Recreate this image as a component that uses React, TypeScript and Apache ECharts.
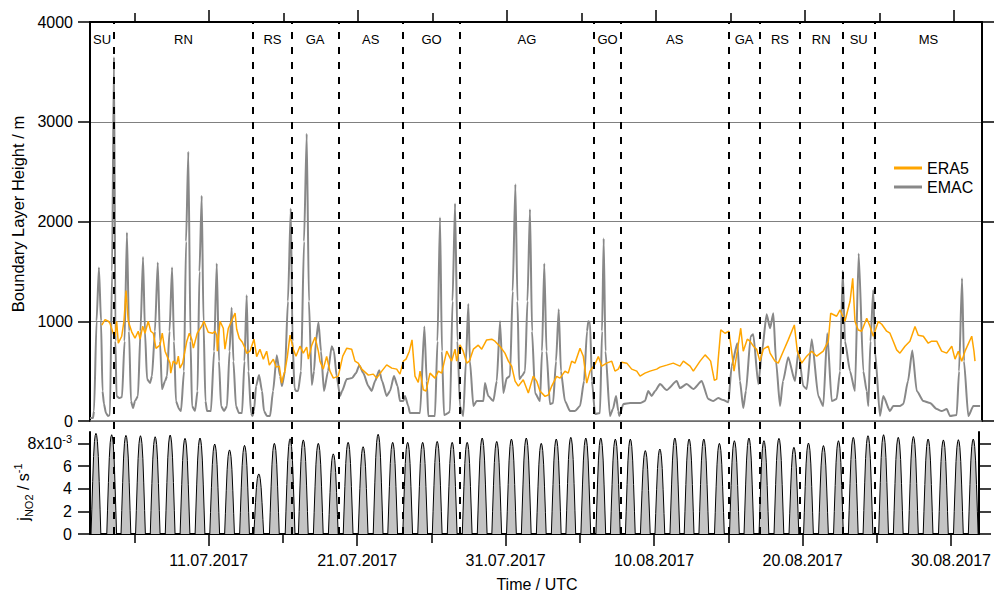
import React, { useEffect, useRef } from 'react';
import * as echarts from 'echarts';

// x values: days since 01.07.2017 00:00 UTC
const X_MIN = 2;
const X_MAX = 61.89;
const majorTicks = [10, 20, 30, 40, 50, 60];
const minorTicks = [5, 15, 25, 35, 45, 55];
const jTicks = [0, 2, 4, 6, 8];

const regionBounds = [2, 3.61, 12.94, 15.56, 18.67, 23.02, 26.84, 35.84, 37.65, 44.86, 46.98, 49.67, 52.51, 54.71, 61.89];
const regionNames = ['SU', 'RN', 'RS', 'GA', 'AS', 'GO', 'AG', 'GO', 'AS', 'GA', 'RS', 'RN', 'SU', 'MS'];

const emac: [number, number][] = [
  [2.00, 30], [2.20, 30], [2.27, 100], [2.44, 1000], [2.60, 1540], [2.74, 1000], [2.84, 300], [2.94, 170], [3.07, 80], [3.21, 50], [3.34, 60], [3.48, 1500], [3.61, 3650], [3.71, 800], [3.78, 250], [3.95, 230], [4.15, 240], [4.32, 800], [4.48, 1890], [4.62, 900], [4.75, 200], [4.89, 130], [5.02, 200], [5.22, 250], [5.39, 900], [5.56, 1645], [5.69, 900], [5.83, 420], [6.03, 380], [6.16, 450], [6.36, 900], [6.55, 1590], [6.70, 800], [6.83, 320], [7.04, 400], [7.17, 450], [7.34, 900], [7.51, 1540], [7.64, 800], [7.77, 200], [7.98, 120], [8.11, 100], [8.31, 500], [8.45, 1800], [8.60, 2700], [8.75, 800], [8.85, 150], [9.05, 100], [9.22, 300], [9.35, 1500], [9.50, 2257], [9.62, 1000], [9.75, 200], [9.86, 100], [10.12, 100], [10.33, 700], [10.51, 1580], [10.66, 600], [10.80, 150], [11.00, 100], [11.20, 150], [11.37, 700], [11.51, 1135], [11.63, 600], [11.80, 150], [12.00, 80], [12.21, 80], [12.37, 600], [12.52, 1260], [12.64, 500], [12.81, 80], [12.91, 50], [13.01, 100], [13.15, 350], [13.35, 460], [13.55, 300], [13.68, 100], [13.88, 50], [14.09, 50], [14.29, 300], [14.54, 660], [14.76, 450], [14.89, 350], [15.09, 500], [15.29, 1200], [15.48, 2130], [15.60, 800], [15.73, 330], [15.83, 300], [15.97, 300], [16.17, 500], [16.37, 1800], [16.55, 2880], [16.70, 1200], [16.89, 360], [17.04, 500], [17.17, 800], [17.34, 990], [17.51, 700], [17.71, 300], [17.98, 500], [18.23, 750], [18.38, 700], [18.56, 450], [18.79, 250], [18.92, 300], [19.24, 420], [19.59, 430], [19.86, 480], [20.08, 560], [20.35, 480], [20.69, 350], [20.91, 300], [21.14, 400], [21.42, 510], [21.61, 400], [21.92, 250], [22.14, 300], [22.41, 450], [22.65, 350], [22.81, 200], [23.04, 200], [23.15, 250], [23.37, 150], [23.48, 80], [24.16, 80], [24.45, 947], [24.61, 400], [24.71, 50], [25.16, 50], [25.33, 800], [25.50, 2040], [25.63, 700], [25.77, 60], [26.06, 80], [26.17, 100], [26.34, 1200], [26.51, 2180], [26.67, 800], [26.84, 150], [27.06, 50], [27.24, 600], [27.40, 1173], [27.51, 600], [27.74, 150], [27.96, 200], [28.41, 200], [28.52, 380], [28.74, 250], [29.08, 200], [29.31, 400], [29.53, 1000], [29.75, 280], [29.98, 430], [30.20, 450], [30.38, 1300], [30.56, 2373], [30.70, 1200], [30.82, 420], [31.00, 450], [31.21, 500], [31.37, 1200], [31.54, 2123], [31.68, 900], [31.88, 280], [32.21, 200], [32.35, 700], [32.50, 1580], [32.65, 700], [32.88, 170], [33.09, 180], [33.29, 600], [33.47, 1120], [33.62, 500], [33.89, 200], [34.23, 100], [34.56, 100], [34.90, 150], [35.17, 400], [35.37, 900], [35.46, 1000], [35.57, 990], [35.70, 400], [35.91, 70], [36.24, 80], [36.38, 900], [36.49, 1830], [36.61, 700], [36.91, 50], [37.11, 120], [37.32, 250], [37.47, 100], [37.54, 50], [37.81, 170], [38.26, 180], [38.93, 180], [39.26, 200], [39.48, 300], [39.71, 250], [39.94, 300], [40.27, 370], [40.72, 310], [41.39, 400], [41.61, 330], [42.06, 370], [42.51, 320], [43.07, 400], [43.51, 220], [43.85, 200], [44.18, 230], [44.52, 210], [44.86, 187], [45.08, 550], [45.46, 780], [45.64, 400], [45.86, 130], [46.04, 300], [46.36, 850], [46.53, 870], [46.87, 370], [47.12, 700], [47.43, 1070], [47.66, 930], [47.88, 1080], [48.06, 600], [48.33, 150], [48.53, 400], [48.88, 640], [49.33, 400], [49.56, 700], [49.89, 350], [50.12, 320], [50.46, 820], [50.90, 250], [51.23, 150], [51.50, 880], [51.80, 200], [52.13, 220], [52.36, 500], [52.54, 1507], [52.69, 800], [53.03, 500], [53.36, 300], [53.61, 1680], [53.92, 500], [54.15, 300], [54.26, 150], [54.40, 800], [54.59, 1313], [54.71, 700], [55.04, 50], [55.26, 250], [55.71, 100], [55.93, 150], [56.38, 150], [56.61, 170], [56.92, 400], [57.21, 707], [57.51, 300], [57.95, 200], [58.40, 180], [58.85, 120], [59.18, 100], [59.52, 120], [59.74, 50], [60.19, 60], [60.35, 500], [60.55, 1430], [60.68, 600], [60.97, 50], [61.31, 150], [61.76, 150],
];

const era5: [number, number][] = [
  [2.79, 960], [3.01, 1016], [3.23, 1000], [3.34, 980], [3.56, 877], [3.68, 850], [3.79, 1000], [3.90, 780], [4.13, 850], [4.28, 1000], [4.42, 1307], [4.57, 1000], [4.80, 894], [5.02, 830], [5.24, 900], [5.36, 820], [5.54, 950], [5.69, 880], [5.91, 1000], [6.08, 900], [6.25, 880], [6.43, 728], [6.70, 760], [6.85, 880], [7.04, 700], [7.37, 580], [7.42, 480], [7.59, 600], [7.82, 570], [7.93, 650], [8.04, 530], [8.22, 580], [8.49, 794], [8.67, 880], [8.83, 820], [8.94, 730], [9.20, 880], [9.50, 950], [9.65, 1000], [9.94, 890], [10.24, 880], [10.39, 900], [10.51, 860], [10.55, 700], [10.73, 1000], [10.95, 930], [11.06, 720], [11.29, 930], [11.74, 1082], [11.85, 920], [12.02, 830], [12.23, 790], [12.41, 730], [12.52, 679], [12.74, 700], [13.01, 820], [13.19, 645], [13.41, 720], [13.64, 620], [13.86, 700], [14.04, 560], [14.31, 620], [14.49, 540], [14.71, 550], [14.87, 380], [14.98, 450], [15.09, 500], [15.25, 645], [15.43, 860], [15.65, 720], [15.83, 650], [16.10, 750], [16.32, 680], [16.55, 740], [16.66, 620], [16.89, 760], [17.11, 840], [17.33, 700], [17.44, 600], [17.66, 520], [17.89, 647], [18.11, 500], [18.34, 430], [18.67, 450], [18.97, 650], [19.24, 730], [19.57, 720], [19.79, 600], [20.01, 580], [20.24, 520], [20.69, 460], [21.02, 470], [21.25, 430], [21.59, 500], [21.92, 563], [22.26, 530], [22.59, 520], [22.81, 470], [23.04, 600], [23.22, 620], [23.44, 700], [23.62, 813], [23.82, 450], [24.04, 387], [24.16, 500], [24.38, 313], [24.56, 300], [24.83, 480], [25.16, 430], [25.39, 500], [25.61, 480], [25.95, 700], [26.28, 600], [26.51, 720], [26.62, 600], [26.84, 763], [27.06, 700], [27.29, 580], [27.47, 600], [27.74, 720], [28.07, 760], [28.30, 720], [28.63, 813], [28.97, 820], [29.19, 800], [29.53, 747], [29.86, 680], [30.09, 600], [30.31, 550], [30.54, 400], [30.76, 350], [31.09, 413], [31.43, 280], [31.76, 450], [31.99, 400], [32.21, 300], [32.55, 247], [32.77, 260], [33.00, 350], [33.33, 447], [33.56, 430], [33.89, 500], [34.11, 480], [34.34, 600], [34.56, 580], [34.90, 730], [35.12, 650], [35.35, 380], [35.57, 500], [35.91, 570], [36.13, 647], [36.36, 550], [36.69, 580], [37.03, 600], [37.25, 500], [37.47, 520], [37.70, 590], [38.04, 580], [38.37, 520], [38.71, 500], [38.93, 450], [39.26, 480], [39.60, 500], [40.05, 520], [40.27, 540], [40.72, 560], [41.16, 580], [41.61, 550], [41.84, 600], [42.29, 550], [42.51, 500], [42.96, 600], [43.30, 663], [43.51, 630], [43.67, 600], [43.92, 407], [44.08, 420], [44.18, 620], [44.35, 913], [44.63, 880], [44.90, 900], [45.08, 700], [45.24, 500], [45.46, 700], [45.69, 930], [45.86, 700], [46.13, 820], [46.31, 800], [46.54, 750], [46.76, 720], [46.98, 600], [47.21, 720], [47.54, 750], [47.66, 680], [47.99, 600], [48.21, 580], [48.55, 700], [48.88, 813], [49.29, 963], [49.49, 700], [49.78, 580], [50.12, 650], [50.46, 700], [50.79, 650], [51.23, 700], [51.57, 800], [51.73, 1080], [52.13, 1050], [52.36, 1113], [52.69, 1000], [53.03, 1200], [53.21, 1430], [53.36, 1000], [53.58, 913], [53.81, 900], [54.15, 1030], [54.37, 950], [54.59, 850], [54.93, 997], [55.16, 970], [55.49, 900], [55.71, 880], [55.93, 800], [56.16, 713], [56.38, 680], [56.72, 750], [57.05, 800], [57.39, 947], [57.61, 860], [57.95, 850], [58.28, 780], [58.51, 800], [58.85, 800], [59.18, 700], [59.52, 680], [59.86, 750], [60.08, 620], [60.30, 700], [60.53, 600], [60.75, 700], [61.20, 850], [61.35, 700], [61.42, 600],
];

// jNO2 (x10^-3 s^-1): daily peak time and peak value
const jPeakTime = [2.40, 3.46, 4.42, 5.40, 6.39, 7.40, 8.40, 9.41, 10.40, 11.40, 12.41, 13.37, 14.42, 15.48, 16.37, 17.38, 18.39, 19.39, 20.40, 21.41, 22.39, 23.40, 24.41, 25.39, 26.40, 27.41, 28.42, 29.40, 30.39, 31.39, 32.40, 33.41, 34.39, 35.40, 36.41, 37.39, 38.40, 39.41, 40.39, 41.40, 42.36, 43.35, 44.40, 45.41, 46.39, 47.40, 48.41, 49.42, 50.40, 51.41, 52.42, 53.42, 54.41, 55.46, 56.45, 57.47, 58.46, 59.49, 60.50, 61.50];
const jPeakValue = [8.88, 8.76, 8.7, 8.67, 8.58, 8.73, 8.44, 8.47, 7.94, 7.42, 7.82, 5.3, 8.0, 8.4, 8.3, 8.0, 7.07, 8.09, 7.7, 8.8, 8.09, 8.09, 8.09, 8.17, 8.09, 8.09, 8.47, 8.17, 8.38, 8.47, 8.0, 8.38, 8.53, 8.47, 8.47, 8.38, 8.38, 7.36, 7.5, 8.47, 8.38, 8.38, 8.0, 8.23, 8.47, 8.23, 8.44, 7.65, 8.03, 7.8, 8.23, 8.53, 8.67, 8.76, 8.53, 8.6, 8.38, 8.3, 8.32, 8.38];
// shape of one daylight bell (offset in days from the peak, fraction of the peak)
const jShapeOffset = [-0.33, -0.28, -0.22, -0.16, -0.10, -0.05, 0, 0.05, 0.10, 0.16, 0.22, 0.28, 0.33];
const jShapeFrac = [0, 0.24, 0.52, 0.77, 0.92, 0.98, 1, 0.98, 0.92, 0.77, 0.52, 0.24, 0];

const FONT = 'Liberation Sans, Arial, Helvetica, sans-serif';

function fmtDate(v: number): string {
  const d = new Date(Date.UTC(2017, 6, 1) + Math.round(v * 86400000));
  const dd = String(d.getUTCDate()).padStart(2, '0');
  const mm = String(d.getUTCMonth() + 1).padStart(2, '0');
  return `${dd}.${mm}.${d.getUTCFullYear()}`;
}

function buildJ(): [number, number][] {
  const out: [number, number][] = [[X_MIN, 0]];
  jPeakTime.forEach((tp, k) => {
    jShapeOffset.forEach((off, i) => {
      out.push([tp + off, jPeakValue[k] * jShapeFrac[i]]);
    });
  });
  out.push([X_MAX, 0]);
  return out;
}

export default function App() {
  const ref = useRef<HTMLDivElement>(null);
  useEffect(() => {
    if (!ref.current) return;
    const chart = echarts.init(ref.current, undefined, { renderer: 'svg' });
    const black = '#000';
    const xBase = { type: 'value', min: X_MIN, max: X_MAX, splitLine: { show: false } };
    const option: any = {
      animation: false,
      textStyle: { fontFamily: FONT },
      grid: [
        { left: 90, right: 12, top: 22, height: 399 },
        { left: 90, right: 12, top: 432, height: 102 },
        { left: 90, right: 12, top: 22, height: 512 },
      ],
      legend: {
        data: ['ERA5', 'EMAC'],
        orient: 'vertical',
        left: 889,
        top: 155,
        icon: 'rect',
        itemWidth: 28,
        itemHeight: 3,
        itemGap: 3,
        textStyle: { fontSize: 16, color: black, fontFamily: FONT },
      },
      xAxis: [
        {
          ...xBase, gridIndex: 0, position: 'top',
          axisLine: { show: true, onZero: false, lineStyle: { color: black, width: 2 } },
          axisTick: { show: true, customValues: majorTicks, length: 12, lineStyle: { color: black, width: 1.5 } },
          axisLabel: { show: false },
        },
        {
          ...xBase, gridIndex: 0, position: 'top',
          axisLine: { show: false, onZero: false },
          axisTick: { show: true, customValues: minorTicks, length: 9, lineStyle: { color: black, width: 1.5 } },
          axisLabel: { show: false },
        },
        {
          ...xBase, gridIndex: 0, position: 'bottom',
          axisLine: { show: true, onZero: false, lineStyle: { color: '#666', width: 1.5 } },
          axisTick: { show: false },
          axisLabel: { show: false },
        },
        {
          ...xBase, gridIndex: 1, position: 'bottom',
          axisLine: { show: true, onZero: false, lineStyle: { color: black, width: 2 } },
          axisTick: { show: true, customValues: majorTicks, length: 12, lineStyle: { color: black, width: 1.5 } },
          axisLabel: { show: true, customValues: majorTicks, formatter: fmtDate, fontSize: 16, color: black, margin: 18, fontFamily: FONT },
        },
        {
          ...xBase, gridIndex: 1, position: 'bottom',
          axisLine: { show: false, onZero: false },
          axisTick: { show: true, customValues: minorTicks, length: 9, lineStyle: { color: black, width: 1.5 } },
          axisLabel: { show: false },
        },
        { ...xBase, gridIndex: 2, show: false },
      ],
      yAxis: [
        {
          type: 'value', gridIndex: 0, position: 'left', min: 0, max: 4000, interval: 1000,
          axisLine: { show: true, onZero: false, lineStyle: { color: black, width: 2 } },
          axisTick: { show: true, length: 12, lineStyle: { color: black, width: 1.5 } },
          axisLabel: { fontSize: 16, color: black, margin: 17, fontFamily: FONT, formatter: (v: number) => String(v) },
          splitLine: { show: true, lineStyle: { color: '#808080', width: 1 } },
        },
        {
          type: 'value', gridIndex: 0, position: 'right', min: 0, max: 4000, interval: 1000,
          axisLine: { show: true, onZero: false, lineStyle: { color: black, width: 2 } },
          axisTick: { show: true, length: 12, lineStyle: { color: black, width: 1.5 } },
          axisLabel: { show: false },
          splitLine: { show: false },
        },
        {
          type: 'value', gridIndex: 1, position: 'left', min: 0, max: 9,
          axisLine: { show: true, onZero: false, lineStyle: { color: black, width: 2 } },
          axisTick: { show: true, customValues: jTicks, length: 12, lineStyle: { color: black, width: 1.5 } },
          axisLabel: {
            show: true, customValues: jTicks, margin: 18, color: black, fontSize: 16, fontFamily: FONT,
            formatter: (v: number) => (v === 8 ? '{a|8x10}{s|-3}' : `{a|${v}}`),
            rich: {
              a: { fontSize: 16, color: black, fontFamily: FONT, lineHeight: 20 },
              s: { fontSize: 11, color: black, fontFamily: FONT, verticalAlign: 'top', lineHeight: 11 },
            },
          },
          splitLine: { show: false },
        },
        {
          type: 'value', gridIndex: 1, position: 'right', min: 0, max: 9,
          axisLine: { show: true, onZero: false, lineStyle: { color: black, width: 2 } },
          axisTick: { show: true, customValues: jTicks, length: 12, lineStyle: { color: black, width: 1.5 } },
          axisLabel: { show: false },
          splitLine: { show: false },
        },
        { type: 'value', gridIndex: 2, min: 0, max: 1, show: false },
      ],
      series: [
        {
          name: 'EMAC', type: 'line', xAxisIndex: 0, yAxisIndex: 0, data: emac,
          showSymbol: false, symbol: 'none', z: 2, smooth: 0.2, smoothMonotone: 'x',
          lineStyle: { color: '#888888', width: 2 }, itemStyle: { color: '#888888' },
        },
        {
          name: 'ERA5', type: 'line', xAxisIndex: 0, yAxisIndex: 0, data: era5,
          showSymbol: false, symbol: 'none', z: 3,
          lineStyle: { color: '#FFA500', width: 1.5 }, itemStyle: { color: '#FFA500' },
        },
        {
          name: 'jNO2', type: 'line', xAxisIndex: 3, yAxisIndex: 2, data: buildJ(),
          showSymbol: false, symbol: 'none', z: 2,
          lineStyle: { color: black, width: 1 },
          areaStyle: { color: '#c4c4c4', opacity: 1 },
        },
        {
          type: 'line', xAxisIndex: 5, yAxisIndex: 4, data: [], z: 10, silent: true,
          markLine: {
            silent: true, symbol: ['none', 'none'], animation: false,
            label: { show: false },
            lineStyle: { type: [7, 8], color: black, width: 2 },
            data: regionBounds.slice(1, -1).map((t) => ({ xAxis: t })),
          },
          markArea: {
            silent: true, animation: false,
            itemStyle: { color: 'rgba(0,0,0,0)' },
            label: { show: true, position: 'insideTop', distance: 11, color: black, fontSize: 13, fontFamily: FONT },
            data: regionNames.map((n, i) => [
              { xAxis: regionBounds[i], name: n },
              { xAxis: regionBounds[i + 1] },
            ]),
          },
        },
      ],
      graphic: [
        {
          type: 'text', x: 18, y: 214, rotation: Math.PI / 2,
          style: {
            text: 'Boundary Layer Height / m', fontSize: 16.5, fontFamily: FONT, fill: black,
            align: 'center', verticalAlign: 'middle', textAlign: 'center', textVerticalAlign: 'middle',
          },
        },
        {
          type: 'text', x: 23, y: 492, rotation: Math.PI / 2,
          style: {
            text: '{j|j}{sub|NO2}{t| / s}{sup|-1}', fontFamily: FONT, fill: black,
            align: 'center', verticalAlign: 'middle', textAlign: 'center', textVerticalAlign: 'middle',
            rich: {
              j: { fontSize: 16, fontFamily: FONT, fill: black, lineHeight: 22 },
              sub: { fontSize: 11, fontFamily: FONT, fill: black, verticalAlign: 'bottom', lineHeight: 11 },
              t: { fontSize: 16, fontFamily: FONT, fill: black, lineHeight: 22 },
              sup: { fontSize: 11, fontFamily: FONT, fill: black, verticalAlign: 'top', lineHeight: 11 },
            },
          },
        },
        {
          type: 'text', x: 537, y: 584,
          style: {
            text: 'Time / UTC', fontSize: 16, fontFamily: FONT, fill: black,
            align: 'center', verticalAlign: 'middle', textAlign: 'center', textVerticalAlign: 'middle',
          },
        },
      ],
    };
    chart.setOption(option);
    return () => chart.dispose();
  }, []);
  return <div ref={ref} style={{ position: 'absolute', left: 0, top: 0, width: 994, height: 591 }} />;
}
